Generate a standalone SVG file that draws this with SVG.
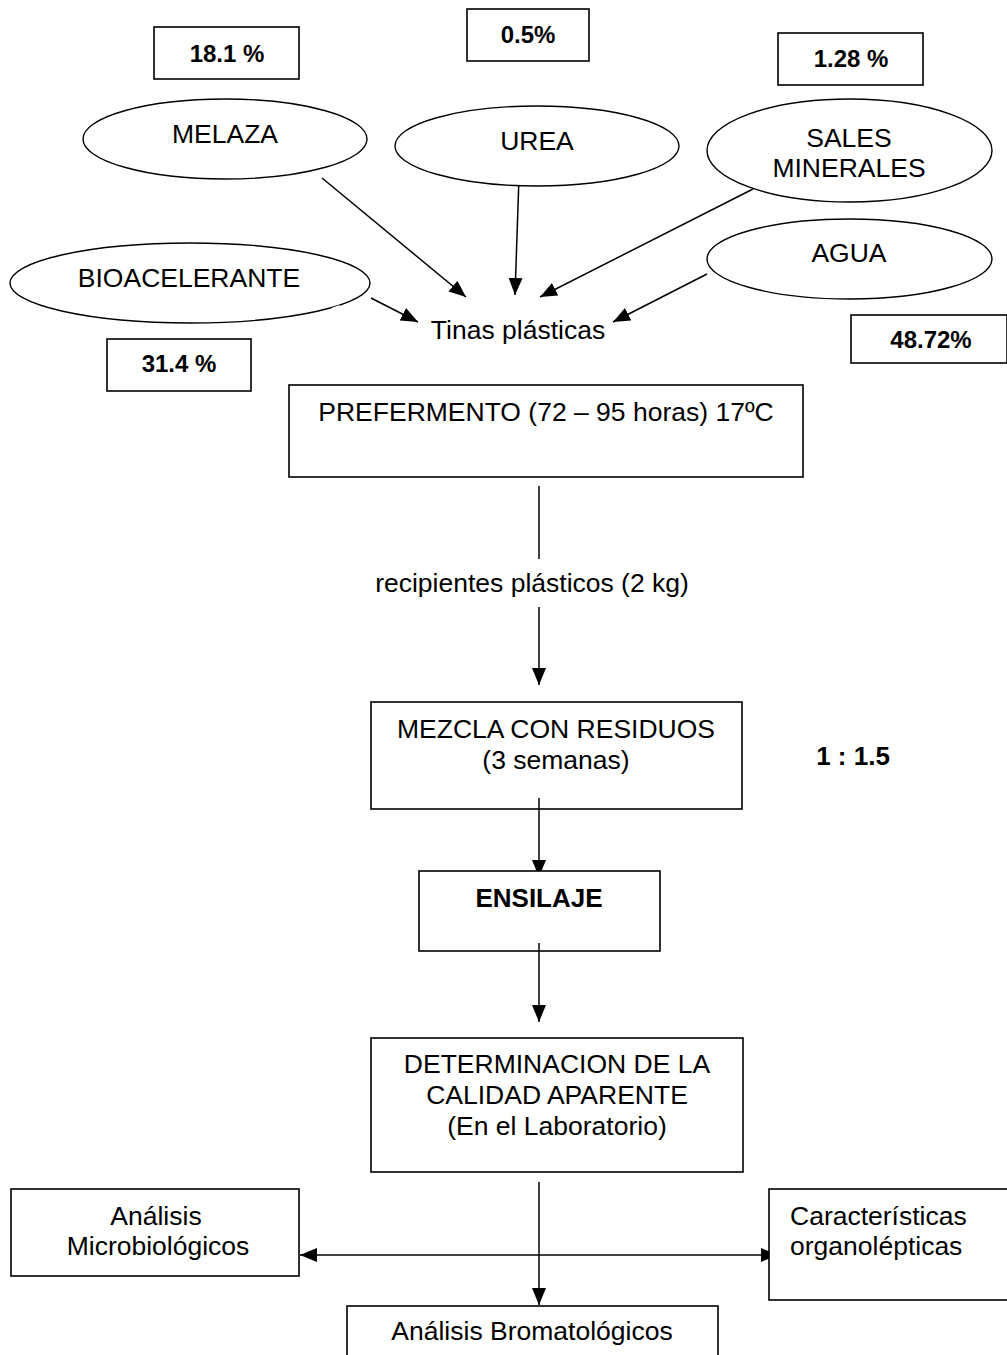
<svg xmlns="http://www.w3.org/2000/svg" width="1007" height="1355" viewBox="0 0 1007 1355">
<style>
  .box { fill: #fff; stroke: #000; stroke-width: 1.6; }
  .ell { fill: #fff; stroke: #000; stroke-width: 1.4; }
  .t { font-family: "Liberation Sans", Arial, sans-serif; font-size: 26.5px; fill: #000; }
  .c { text-anchor: middle; }
  .b { font-weight: bold; font-size: 24px; }
  .bb { font-weight: bold; font-size: 26px; }
  .ln { stroke: #000; stroke-width: 1.5; fill: none; }
  .ar { marker-end: url(#ah); }
</style>
<defs>
  <marker id="ah" viewBox="0 0 10 10" refX="10" refY="5" markerUnits="userSpaceOnUse" markerWidth="17" markerHeight="14" preserveAspectRatio="none" orient="auto-start-reverse">
    <path d="M0,0 L10,5 L0,10 z" fill="#000"/>
  </marker>
</defs>
<rect width="1007" height="1355" fill="#fff"/>

<g id="connectors">
  <line class="ln ar" x1="322" y1="178" x2="466" y2="297"/>
  <line class="ln ar" x1="519" y1="177" x2="515" y2="295"/>
  <line class="ln ar" x1="753" y1="189" x2="540" y2="297"/>
  <line class="ln ar" x1="707" y1="274" x2="613" y2="322"/>
  <line class="ln ar" x1="371" y1="298" x2="418" y2="322"/>
  <line class="ln" x1="539" y1="486" x2="539" y2="559"/>
  <line class="ln ar" x1="539" y1="607" x2="539" y2="685"/>
  <line class="ln" x1="539" y1="1182" x2="539" y2="1255"/>
  <line class="ln ar" x1="539" y1="1255" x2="539" y2="1305"/>
  <line class="ln" x1="300" y1="1255" x2="778" y2="1255" style="marker-start:url(#ah);marker-end:url(#ah)"/>
</g>

<g id="pct-melaza"><rect class="box" x="154" y="27" width="145" height="52"/><text class="t b c" x="227" y="62">18.1 %</text></g>
<g id="pct-urea"><rect class="box" x="467" y="9" width="122" height="52"/><text class="t b c" x="528" y="43">0.5%</text></g>
<g id="pct-sales"><rect class="box" x="778" y="33" width="145" height="52"/><text class="t b c" x="851" y="67">1.28 %</text></g>
<g id="pct-bio"><rect class="box" x="107" y="339" width="144" height="52"/><text class="t b c" x="179" y="372">31.4 %</text></g>
<g id="pct-agua"><rect class="box" x="851" y="315" width="156" height="48"/><text class="t b c" x="931" y="348">48.72%</text></g>

<g id="melaza"><ellipse class="ell" cx="225" cy="139" rx="142" ry="40"/><text class="t c" x="225" y="143">MELAZA</text></g>
<g id="urea"><ellipse class="ell" cx="537" cy="146" rx="142" ry="40"/><text class="t c" x="537" y="150">UREA</text></g>
<g id="sales"><ellipse class="ell" cx="849.5" cy="150.5" rx="142.5" ry="51.5"/><text class="t c" x="849" y="147">SALES</text><text class="t c" x="849" y="177">MINERALES</text></g>
<g id="agua"><ellipse class="ell" cx="849.5" cy="259" rx="142.5" ry="40"/><text class="t c" x="849" y="262">AGUA</text></g>
<g id="bio"><ellipse class="ell" cx="190" cy="283" rx="180" ry="40"/><line x1="332" y1="309.5" x2="340" y2="306.5" stroke="#fff" stroke-width="3"/><text class="t c" x="189" y="287">BIOACELERANTE</text></g>

<g id="tinas"><text class="t c" x="518" y="339">Tinas plásticas</text></g>

<g id="preferment"><rect class="box" x="289" y="385" width="514" height="92"/><text class="t c" x="546" y="421">PREFERMENTO (72 – 95 horas) 17ºC</text></g>

<g id="recipientes"><text class="t c" x="532" y="592">recipientes plásticos (2 kg)</text></g>

<g id="mezcla"><rect class="box" x="371" y="702" width="371" height="107"/><text class="t c" x="556" y="738">MEZCLA CON RESIDUOS</text><text class="t c" x="556" y="769">(3 semanas)</text></g>
<g id="ratio"><text class="t bb c" x="853" y="765">1 : 1.5</text></g>

<g id="conn-mid">
  <line class="ln ar" x1="539" y1="798" x2="539" y2="877"/>
</g>

<g id="ensilaje"><rect class="box" x="419" y="871" width="241" height="80"/><text class="t bb c" x="539" y="907">ENSILAJE</text></g>

<g id="conn-ens">
  <line class="ln ar" x1="539" y1="943" x2="539" y2="1022"/>
</g>

<g id="determinacion"><rect class="box" x="371" y="1038" width="372" height="134"/><text class="t c" x="557" y="1073">DETERMINACION DE LA</text><text class="t c" x="557" y="1104">CALIDAD APARENTE</text><text class="t c" x="557" y="1135">(En el Laboratorio)</text></g>

<g id="micro"><rect class="box" x="11" y="1189" width="288" height="87"/><text class="t c" x="156" y="1225">Análisis</text><text class="t c" x="158" y="1255">Microbiológicos</text></g>
<g id="organo"><rect class="box" x="769" y="1189" width="245" height="111"/><text class="t" x="790" y="1225">Características</text><text class="t" x="790" y="1255">organolépticas</text></g>
<g id="bromato"><rect class="box" x="347" y="1306" width="371" height="60"/><text class="t c" x="532" y="1340">Análisis Bromatológicos</text></g>
</svg>
